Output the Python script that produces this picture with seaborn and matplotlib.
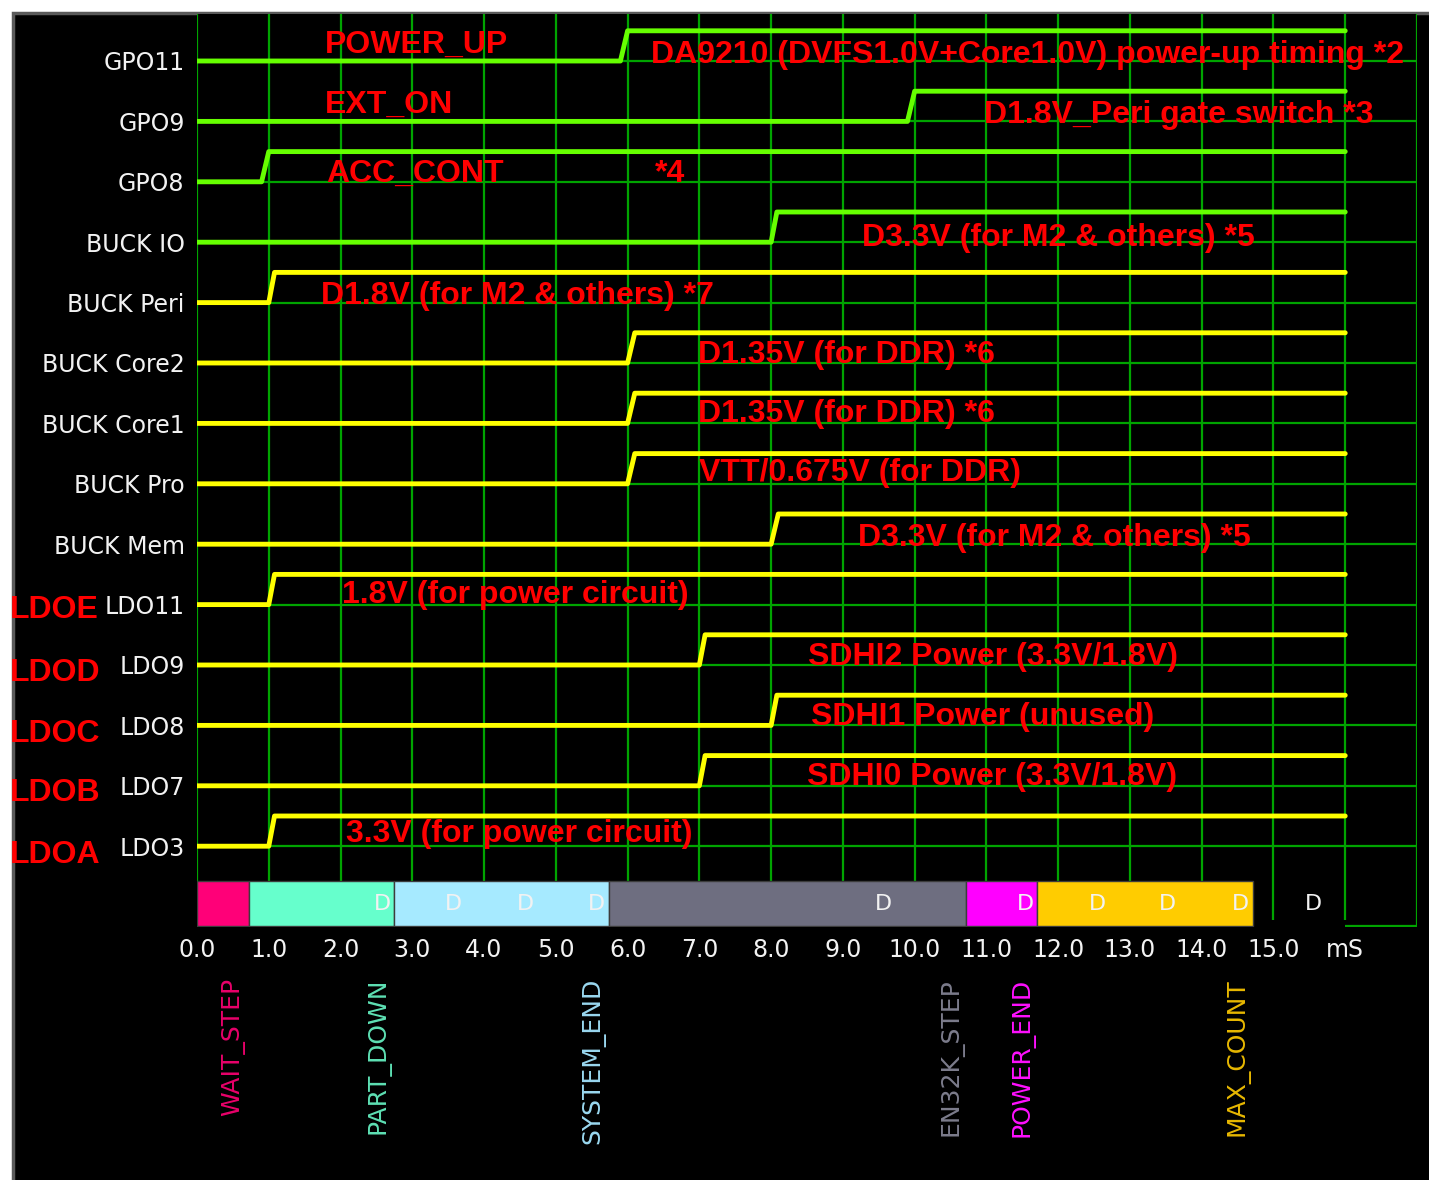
import pandas as pd
import matplotlib
matplotlib.use("Agg")
from matplotlib import pyplot as plt
from matplotlib.patches import Rectangle
import seaborn as sns

# ---- data ----
signal_names = ["GPO11", "GPO9", "GPO8", "BUCK IO", "BUCK Peri", "BUCK Core2", "BUCK Core1",
                "BUCK Pro", "BUCK Mem", "LDO11", "LDO9", "LDO8", "LDO7", "LDO3"]
signal_kind = ["gpo", "gpo", "gpo", "gpo", "reg", "reg", "reg",
               "reg", "reg", "reg", "reg", "reg", "reg", "reg"]
rise_start = [5.9, 9.9, 0.9, 8.0, 1.0, 6.0, 6.0, 6.0, 8.0, 1.0, 7.0, 8.0, 7.0, 1.0]
rise_end = [6.0, 10.0, 1.0, 8.08, 1.08, 6.1, 6.1, 6.1, 8.1, 1.08, 7.08, 8.08, 7.08, 1.08]
end_time = 16.0

ldo_names = ["LDOE", "LDOD", "LDOC", "LDOB", "LDOA"]
ldo_rows = [9.22, 10.26, 11.28, 12.25, 13.28]

notes = ["POWER_UP", "EXT_ON", "ACC_CONT", "DA9210 (DVFS1.0V+Core1.0V) power-up timing *2",
         "D1.8V_Peri gate switch *3", "*4", "D3.3V (for M2 & others) *5",
         "D1.8V (for M2 & others) *7", "D1.35V (for DDR) *6", "D1.35V (for DDR) *6",
         "VTT/0.675V (for DDR)", "D3.3V (for M2 & others) *5", "1.8V (for power circuit)",
         "SDHI2 Power (3.3V/1.8V)", "SDHI1 Power (unused)", "SDHI0 Power (3.3V/1.8V)",
         "3.3V (for power circuit)"]
note_x = [1.78, 1.78, 1.80, 6.33, 10.97, 6.38, 9.27, 1.73, 6.98, 6.98, 7.0, 9.21, 2.02,
          8.51, 8.56, 8.50, 2.08]
note_y = [-0.13, 0.86, 2.0, 0.03, 1.03, 2.0, 3.06, 4.02, 5.0, 5.98, 6.95, 8.03, 8.97,
          10.0, 10.99, 11.99, 12.93]

step_names = ["WAIT_STEP", "PART_DOWN", "SYSTEM_END", "EN32K_STEP", "POWER_END", "MAX_COUNT"]
step_start = [0.0, 0.72, 2.74, 5.74, 10.72, 11.71]
step_end = [0.72, 2.74, 5.74, 10.72, 11.71, 14.71]
step_colors = ["#ff0078", "#66ffcc", "#a6eaff", "#6e6e80", "#ff00ff", "#ffcc00"]
label_colors = ["#e8006a", "#5ee0b4", "#9ad8f0", "#7c7c8c", "#ff10ff", "#e8b800"]

d_marks = [2.58, 3.57, 4.57, 5.56, 9.57, 11.55, 12.55, 13.52, 14.54, 15.56]

tick_labels = ["0.0", "1.0", "2.0", "3.0", "4.0", "5.0", "6.0", "7.0", "8.0", "9.0",
               "10.0", "11.0", "12.0", "13.0", "14.0", "15.0", "mS"]

# ---- layout helpers (pixel geometry of the 1429x1180 canvas) ----
W, H = 1429, 1180
ROW0, ROW_PX = 61, 60.4


def row_of(py):
    return (py - ROW0) / ROW_PX


GRID = "#00a400"
GREEN = "#66ff00"
YELLOW = "#ffff00"
RED = "#ff0000"
WHITE = "#f2f2f2"

sns.set_theme(style="dark", rc={"axes.facecolor": "black", "figure.facecolor": "white"})
plt.rcParams["font.family"] = ["DejaVu Sans"]

fig = plt.figure(figsize=(W / 100, H / 100), dpi=100)
# black screen area with a soft grey edge on top / left only
fig.patches.append(Rectangle((13 / W, -0.01), 1.0, 1.01 - 13 / H, transform=fig.transFigure,
                             facecolor="black", edgecolor="#5a5a5a", lw=2.5, zorder=-10))

ax = fig.add_axes([197 / W, 1 - 927 / H, (1417 - 197) / W, (927 - 14) / H])
ax.set_facecolor("black")
ax.set_xlim(0, 17)
ax.set_ylim(row_of(927), row_of(14))
for s in ax.spines.values():
    s.set_visible(False)

# grid
bar_top, bar_bot = row_of(881), row_of(926)
ax.hlines(range(len(signal_names)), 0, 17, color=GRID, lw=1.6, zorder=1)
for k in range(18):
    bottom = bar_top
    if k in (15, 16):
        bottom = row_of(920)
    if k == 17:
        bottom = bar_bot
    ax.vlines(k, row_of(14), bottom, color=GRID, lw=1.6, zorder=1)
ax.hlines(bar_bot, 16, 17, color=GRID, lw=1.6, zorder=1)

# signals
recs = []
for i, name in enumerate(signal_names):
    for t, lvl in zip([0.0, rise_start[i], rise_end[i], end_time], [0, 0, 1, 1]):
        recs.append({"signal": name, "kind": signal_kind[i], "t": t, "y": i - 0.5 * lvl})
df = pd.DataFrame(recs)
sns.lineplot(data=df, x="t", y="y", hue="kind", units="signal", estimator=None, sort=False,
             palette={"gpo": GREEN, "reg": YELLOW}, linewidth=3.5, legend=False, ax=ax, zorder=3)

# sequence step bar
widths = [e - s for s, e in zip(step_start, step_end)]
ax.barh((bar_top + bar_bot) / 2, widths, left=step_start, height=bar_bot - bar_top,
        color=step_colors, edgecolor="#3c3c3c", lw=1, zorder=2)
for x in d_marks:
    ax.text(x, (bar_top + bar_bot) / 2, "D", color=WHITE, ha="center", va="center",
            fontsize=16, zorder=4)
for name, e, c in zip(step_names, step_end, label_colors):
    ax.text(e - 0.21, row_of(978), name, rotation=90, ha="center", va="top",
            color=c, fontsize=18)

# red annotations
for txt, x, y in zip(notes, note_x, note_y):
    ax.text(x, y, txt, color=RED, fontsize=23, fontweight="bold", family="Liberation Sans",
            ha="left", va="baseline", zorder=5)
for txt, y in zip(ldo_names, ldo_rows):
    ax.text(-2.61, y, txt, color=RED, fontsize=23, fontweight="bold", family="Liberation Sans",
            ha="left", va="baseline", zorder=5)

# axes labels
ax.set_xticks(range(len(tick_labels)))
ax.set_xticklabels(tick_labels, color=WHITE, fontsize=17)
ax.set_yticks(range(len(signal_names)))
ax.set_yticklabels(signal_names, color=WHITE, fontsize=17)
ax.tick_params(axis="both", length=0)
ax.tick_params(axis="x", pad=8)
ax.tick_params(axis="y", pad=9)
ax.set_xlabel("")
ax.set_ylabel("")
ax.grid(False)

fig.savefig("out.png", dpi=100, facecolor=fig.get_facecolor())
